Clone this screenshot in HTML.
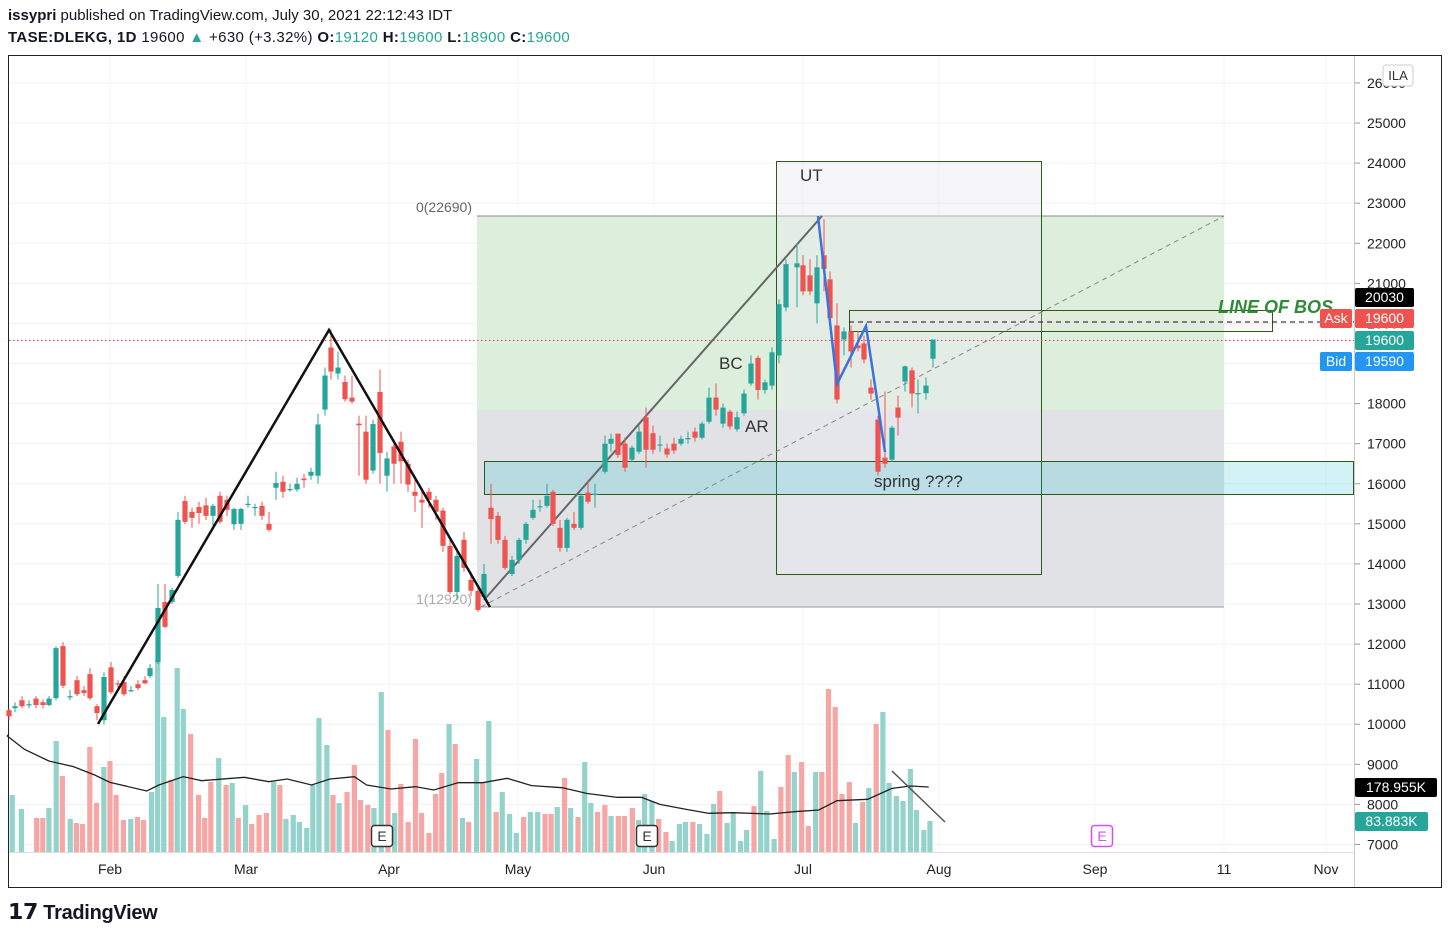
<!DOCTYPE html>
<html><head><meta charset="utf-8">
<style>
body{margin:0;background:#fff;font-family:"Liberation Sans",sans-serif;}
#wrap{position:relative;width:1450px;height:934px;overflow:hidden;}
.hd{position:absolute;left:8px;font-size:15px;color:#131722;white-space:nowrap}
.t{color:#26a69a}
</style></head>
<body><div id="wrap">
<div class="hd" style="top:7px"><b>issypri</b> published on TradingView.com, July 30, 2021 22:12:43 IDT</div>
<div class="hd" style="top:29px;letter-spacing:0.35px"><b>TASE:DLEKG, 1D</b> 19600 <span class="t">▲</span> +630 (+3.32%) <b>O:</b><span class="t">19120</span> <b>H:</b><span class="t">19600</span> <b>L:</b><span class="t">18900</span> <b>C:</b><span class="t">19600</span></div>
<svg id="s" width="1450" height="934" style="position:absolute;left:0;top:0" font-family="Liberation Sans, sans-serif"></svg>
<div style="position:absolute;left:8px;top:899px;font-size:20px;font-weight:bold;color:#131722;letter-spacing:-0.3px"><span style="font-size:22px">𝟭𝟳</span> TradingView</div>
</div>
<script>
const s=document.getElementById('s');let h='';
const Y=p=>604-(p-13000)*0.04008;
const SX=0.611;
h+='<rect x="8.5" y="55.5" width="1433" height="832" fill="#fff" stroke="#222" stroke-width="1"/>';
for(let p=7000;p<=26000;p+=1000){const y=Y(p);h+=`<line x1="9" x2="1354" y1="${y}" y2="${y}" stroke="#f0f1f4"/>`;}
[110,246,389,518,654,803,939,1095,1224,1326].forEach(x=>h+=`<line x1="${x}" x2="${x}" y1="56" y2="852" stroke="#f3f4f7"/>`);
h+='<rect x="477" y="216" width="747" height="194" fill="#dcefdc"/><rect x="477" y="410" width="747" height="197" fill="#e1e2e5"/>';
h+='<line x1="477" x2="1224" y1="216" y2="216" stroke="#888"/><line x1="477" x2="1224" y1="607" y2="607" stroke="#999"/>';
h+='<text x="472" y="212" font-size="14" fill="#666" text-anchor="end">0(22690)</text><text x="472" y="604" font-size="14" fill="#aaa" text-anchor="end">1(12920)</text>';
h+='<rect x="776.5" y="161.5" width="265" height="413" fill="rgba(235,236,242,0.45)" stroke="#2d5a1b"/>';
h+='<text x="800" y="181" font-size="17" fill="#333">UT</text>';
h+='<rect x="484.5" y="461.5" width="869" height="33" fill="rgba(0,190,215,0.18)" stroke="#2d5a1b"/>';
h+='<text x="874" y="487" font-size="17" fill="#333">spring ????</text>';
h+='<rect x="849.5" y="310.5" width="423" height="21" fill="rgba(240,220,220,0.2)" stroke="#2d5a1b"/>';
h+='<line x1="849" x2="1354" y1="322" y2="322" stroke="#111" stroke-dasharray="5,4"/>';
h+='<text x="1218" y="313" font-size="18" font-weight="bold" font-style="italic" fill="#2e8b36">LINE OF BOS</text>';
h+='<line x1="9" x2="1354" y1="340.5" y2="340.5" stroke="#f04040" stroke-dasharray="1.5,2.5"/>';
h+='<line x1="481" y1="607" x2="1224" y2="216" stroke="#888" stroke-dasharray="5,4"/>';
h+='<line x1="484" y1="600" x2="822" y2="216" stroke="#666" stroke-width="2"/>';
const vx=[20,35,60,70,80,92,102,115,125,135,147,158,170,180,190,202,214,225,235,248,258,268,280,290,300,312,325,335,345,358,370,380,390,402,412,424,436,448,458,468,480,490,502,512,522,535,545,555,568,580,590,602,612,624,635,646,656,668,680,690,702,713,723,735,745,757,767,780,790,800,812,822,834,845,857,868,880,892,902,912,924,934,946,957,967,978,990,1000,1012,1022,1035,1045,1055,1067,1078,1090,1100,1112,1122,1134,1145,1157,1168,1178,1190,1200,1212,1222,1234,1245,1255,1267,1278,1290,1300,1312,1323,1335,1345,1356,1367,1378,1390,1400,1412,1422,1434,1445,1455,1467,1478,1490,1500,1512,1522];
const vt=[795,809,818,818,808,741,776,819,823,824,747,803,767,761,795,820,819,817,820,792,660,717,780,668,709,734,795,818,782,758,785,783,818,805,824,815,813,782,785,819,815,822,828,785,718,745,795,803,792,765,800,805,808,692,730,813,784,822,739,813,833,794,773,724,744,818,822,759,782,721,812,792,814,833,817,812,812,814,814,807,778,808,817,762,803,812,805,816,816,816,808,820,794,801,819,832,841,824,822,822,824,834,804,791,823,813,841,830,806,771,811,839,787,755,772,762,826,772,772,689,707,794,782,823,802,788,724,712,783,796,801,769,810,830,821];
const vc='ttrrttrtrrrrtrrrtrrtttrttrrrrtrtrtrrrtrtttttttrtrrrrttrtrrrrrrrtrtrtrtrtttrttrrtrtrttrrtrrrtttrrtttrtttrttttrtttrrtrrtrrrrrtrtrtttt';
for(let i=0;i<vx.length;i++){const x=vx[i]*SX,t=vt[i];const c=(vc[i]||'t')=='t'?'#93d3cc':'#f6a7a5';h+=`<rect x="${x-2.6}" y="${t}" width="5.2" height="${852-t}" fill="${c}"/>`;}
const ma=[[12,228],[40,268],[80,303],[120,320],[155,345],[180,367],[240,393],[260,375],[300,350],[330,362],[400,352],[440,365],[470,357],[510,375],[540,357],[580,350],[600,375],[640,387],[680,380],[710,390],[750,368],[790,368],[830,355],[870,377],[920,383],[960,400],[1010,412],[1050,412],[1080,433],[1120,447],[1160,460],[1200,458],[1260,462],[1300,455],[1340,450],[1370,422],[1420,418],[1460,385],[1490,378],[1520,381]];
h+='<polyline fill="none" stroke="#222" stroke-width="1.3" points="'+[[9,734]].concat(ma.map(p=>[p[0]*SX,660+p[1]/3])).map(p=>p.join(',')).join(' ')+'"/>';
const C=[[9,10350,10200,10400,10100],[15,10400,10450,10550,10300],[22,10600,10450,10700,10400],[29,10500,10500,10600,10400],[36,10640,10480,10700,10400],[43,10550,10480,10620,10400],[49,10480,10640,10700,10450],[56,10650,11900,11950,10600],[63,11950,10960,12050,10900],[70,10700,10700,10850,10600],[77,11100,10750,11200,10700],[84,10850,10780,10950,10700],[90,11250,10650,11400,10600],[97,10450,10280,10500,10100],[104,10100,11180,11300,10000],[111,11420,10800,11550,10750],[118,11020,11000,11100,10900],[124,11050,10750,11200,10700],[131,10850,10850,10950,10800],[138,11000,10900,11100,10850],[145,11100,11020,11200,11000],[150,11200,11400,11500,11150],[158,11550,12900,13500,11500],[165,13050,12430,13500,12400],[172,13050,13350,13400,13000],[178,13700,15100,15300,13650],[185,15570,15050,15700,15000],[192,15300,15150,15400,14900],[199,15420,15270,15550,15000],[206,15460,15200,15650,15100],[213,15200,15450,15500,14900],[220,15700,15050,15800,15000],[227,15600,15350,15700,15200],[234,14990,15370,15400,14850],[241,15000,15370,15400,14850],[248,15500,15500,15700,15400],[255,15400,15420,15500,15200],[262,15450,15200,15550,15100],[269,15000,14850,15300,14800],[276,15900,16020,16300,15600],[283,16050,15800,16200,15650],[290,15850,15870,16000,15800],[297,15860,16000,16150,15800],[304,16130,16090,16250,15900],[311,16200,16300,16400,16100],[318,16200,17480,17750,16000],[325,17850,18700,18900,17700],[331,19400,18800,19850,18600],[338,18750,18900,19300,18600],[345,18540,18110,18700,18050],[352,18150,18050,18700,18000],[359,17500,17460,17700,16200],[366,17300,16100,17700,16000],[373,16330,17490,17600,16250],[380,18290,16770,18850,16000],[387,16200,16630,16800,15800],[394,16930,16500,17100,16000],[401,17050,16560,17300,16000],[408,16500,15980,16600,15800],[415,15800,15700,16200,15300],[422,15600,15530,15800,14900],[429,15800,15600,15900,15400],[436,15600,15300,15700,15100],[443,15330,14450,15400,14300],[450,14450,13300,14600,13250],[457,13300,14200,14400,13100],[464,14600,13900,14800,13800],[471,13600,13330,13800,13200],[478,13330,12850,13400,12800],[484,13180,13750,14000,13100],[491,15400,15120,16000,14500],[498,15200,14600,15300,14500],[505,14600,13900,14700,13850],[512,13750,14100,14200,13700],[519,14100,14600,14650,14000],[526,14600,15000,15050,14500],[533,15150,15350,15600,15100],[540,15420,15440,15600,15300],[547,15450,15700,16000,15400],[553,15800,15000,15850,14950],[560,14900,14400,15100,14300],[567,14400,15100,15150,14300],[574,15000,14900,15300,14850],[581,14900,15700,15750,14850],[588,15780,15550,16100,15500],[595,15750,15750,16000,15400],[605,16300,17000,17200,16250],[611,17000,17120,17250,16800],[618,17250,16720,17250,16650],[625,17000,16400,17150,16300],[632,16600,16900,16950,16550],[639,16800,17300,17450,16750],[646,17660,16850,17900,16400],[653,17260,16850,17450,16750],[660,16980,16980,17200,16800],[667,16880,16730,17000,16650],[674,17000,16830,17150,16750],[681,17000,17120,17200,16950],[688,17140,17140,17300,17000],[695,17300,17150,17400,17050],[702,17150,17500,17550,17100],[709,17550,18150,18400,17500],[716,18150,17850,18500,17700],[723,17500,17900,18000,17400],[730,17800,17430,17850,17350],[737,17360,17660,17800,17300],[744,17760,18250,18350,17700],[751,18500,19000,19200,18450],[758,19140,18340,19200,18100],[765,18340,18530,18600,18250],[772,18450,19280,19400,18350],[779,19200,20480,20600,19000],[786,20400,21480,21600,20300],[797,21400,21500,22000,20400],[803,21450,20800,21700,20700],[810,21200,20800,21600,20700],[817,20500,21400,21700,20000],[824,21700,21360,22600,20800],[830,21100,20130,21300,20000],[837,19950,18100,20500,18000],[844,19600,19800,19900,19200],[851,19800,19300,19950,18900],[858,19450,19380,19800,19300],[864,19500,19100,19700,19000],[871,18400,18250,18600,18100],[878,17600,16300,17700,16200],[885,16650,16500,18300,16400],[892,16600,17400,17450,16550],[898,17900,17650,18200,17200],[905,18550,18930,18950,18300],[912,18830,18250,18900,17900],[918,18260,18260,18600,17750],[926,18260,18450,18650,18100],[933,19120,19600,19600,18900]];
C.forEach(c=>{const[x,o,cl,hi,lo]=c;const col=cl>=o?'#26a69a':'#ef5350';const t=Y(Math.max(o,cl)),b=Y(Math.min(o,cl));h+=`<line x1="${x}" x2="${x}" y1="${Y(hi)}" y2="${Y(lo)}" stroke="${col}"/><rect x="${x-2.6}" y="${t}" width="5.2" height="${Math.max(b-t,1.2)}" fill="${col}"/>`;});
h+='<polyline points="98,724 329,330 490,607" fill="none" stroke="#111" stroke-width="2.5"/>';
h+='<polyline points="818,216 837,384 866,326 885,452" fill="none" stroke="#3a72e0" stroke-width="2.5"/>';
h+='<line x1="892" y1="771" x2="945" y2="822" stroke="#555" stroke-width="1.5"/>';
h+='<text x="719" y="369" font-size="17" fill="#333">BC</text><text x="745" y="432" font-size="17" fill="#333">AR</text>';
[[382,'#333'],[647,'#333'],[1102,'#d64ff0']].forEach(e=>{h+=`<rect x="${e[0]-10.5}" y="825.5" width="21" height="21" rx="3" fill="#fff" stroke="${e[1]}" stroke-width="1.5"/><text x="${e[0]}" y="841" font-size="14" text-anchor="middle" fill="${e[1]}">E</text>`;});
h+='<line x1="1354.5" x2="1354.5" y1="56" y2="887" stroke="#ccc"/><line x1="9" x2="1354" y1="852.5" y2="852.5" stroke="#ddd"/>';
for(let p=7000;p<=26000;p+=1000){const y=Y(p);h+=`<line x1="1355" x2="1360" y1="${y}" y2="${y}" stroke="#999"/><text x="1367" y="${y+5}" font-size="14" fill="#222">${p}</text>`;}
h+='<rect x="1383" y="65" width="30" height="21" rx="3" fill="#fff" stroke="#ccc"/><text x="1398" y="80" font-size="13" text-anchor="middle" fill="#333">ILA</text>';
const tag=(y,t,bg,w,x)=>h+=`<rect x="${x||1355}" y="${y}" width="${w||59}" height="19" rx="2" fill="${bg}"/><text x="${(x||1355)+(w||59)/2}" y="${y+14}" font-size="14" fill="#fff" text-anchor="middle">${t}</text>`;
tag(288,'20030','#000');tag(309,'19600','#ef5350');tag(331,'19600','#26a69a');tag(352,'19590','#2196f3');
tag(309,'Ask','#ef5350',32,1320);tag(352,'Bid','#2196f3',32,1320);
tag(778,'178.955K','#000',82);tag(812,'83.883K','#26a69a',73);
[[110,'Feb'],[246,'Mar'],[389,'Apr'],[518,'May'],[654,'Jun'],[803,'Jul'],[939,'Aug'],[1095,'Sep'],[1224,'11'],[1326,'Nov']].forEach(a=>h+=`<text x="${a[0]}" y="874" font-size="14" text-anchor="middle" fill="#222">${a[1]}</text>`);
s.innerHTML=h;
</script>
</body></html>
